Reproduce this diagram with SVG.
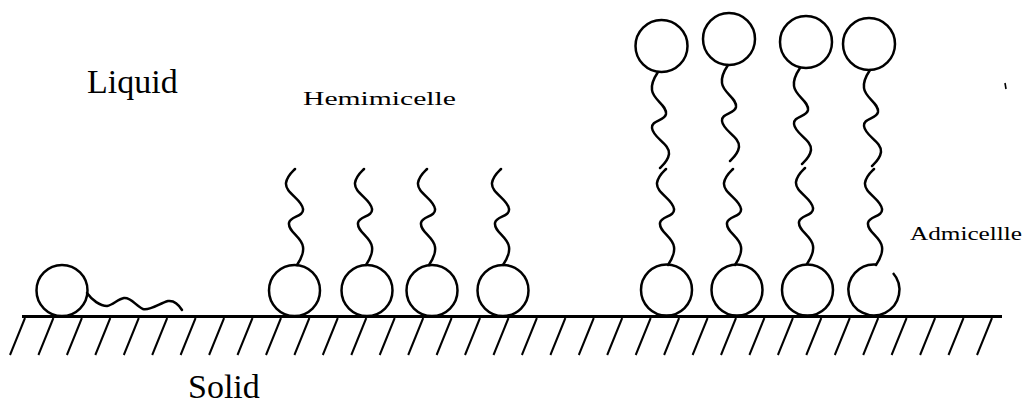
<svg xmlns="http://www.w3.org/2000/svg" xmlns:xlink="http://www.w3.org/1999/xlink" width="1027" height="405" viewBox="0 0 1027 405">
  <style>
    .head { fill: none; stroke: #000; stroke-width: 2.5; }
    .tail { fill: none; stroke: #000; stroke-width: 2.5; stroke-linecap: round; stroke-linejoin: round; }
    .ground { stroke: #000; stroke-width: 3; }
    .hatch { stroke: #000; stroke-width: 2; }
    .lbl { font-family: "Liberation Serif", "DejaVu Serif", "Times New Roman", serif; fill: #000; }
  </style>
  <defs>
    <!-- hydrocarbon chain, anchored at the head group, pointing up -->
    <path id="chain" class="tail" d="M0,0 C4,-6 7,-12 6,-18 C5,-28 -9,-33 -8,-42 C-7,-49 7,-48 6,-56 C5,-66 -12,-72 -11,-82 C-10,-89 -5,-93 -2,-96"/>
    <line id="tick" class="hatch" x1="0" y1="318" x2="-15" y2="355"/>
  </defs>
  <rect width="1027" height="405" fill="#fff"/>

  <!-- solid surface with hatching -->
  <g id="surface">
    <line class="ground" x1="22" y1="316.5" x2="1002" y2="316.5"/>
    <use xlink:href="#tick" x="25"/><use xlink:href="#tick" x="53.4"/><use xlink:href="#tick" x="81.9"/>
    <use xlink:href="#tick" x="110.3"/><use xlink:href="#tick" x="138.8"/><use xlink:href="#tick" x="167.2"/>
    <use xlink:href="#tick" x="195.6"/><use xlink:href="#tick" x="224.1"/><use xlink:href="#tick" x="252.5"/>
    <use xlink:href="#tick" x="281"/><use xlink:href="#tick" x="309.4"/><use xlink:href="#tick" x="337.8"/>
    <use xlink:href="#tick" x="366.3"/><use xlink:href="#tick" x="394.7"/><use xlink:href="#tick" x="423.2"/>
    <use xlink:href="#tick" x="451.6"/><use xlink:href="#tick" x="480"/><use xlink:href="#tick" x="508.5"/>
    <use xlink:href="#tick" x="536.9"/><use xlink:href="#tick" x="565.4"/><use xlink:href="#tick" x="593.8"/>
    <use xlink:href="#tick" x="622.2"/><use xlink:href="#tick" x="650.7"/><use xlink:href="#tick" x="679.1"/>
    <use xlink:href="#tick" x="707.6"/><use xlink:href="#tick" x="736"/><use xlink:href="#tick" x="764.4"/>
    <use xlink:href="#tick" x="792.9"/><use xlink:href="#tick" x="821.3"/><use xlink:href="#tick" x="849.8"/>
    <use xlink:href="#tick" x="878.2"/><use xlink:href="#tick" x="906.6"/><use xlink:href="#tick" x="935.1"/>
    <use xlink:href="#tick" x="963.5"/><use xlink:href="#tick" x="992"/>
  </g>

  <!-- single adsorbed surfactant lying flat -->
  <g id="monomer">
    <circle class="head" cx="62" cy="290.5" r="25.5"/>
    <path class="tail" d="M87,293 C92,300 100,306 107,306 C113,305 118,299 124,298 C131,297 136,306 143,309 C150,311 160,303 168,301 C175,300 179,305 182,310"/>
  </g>

  <!-- hemimicelle: heads on the surface, chains up -->
  <g id="hemimicelle">
    <circle class="head" cx="294.5" cy="290.5" r="25.5"/>
    <circle class="head" cx="367" cy="290.5" r="25.5"/>
    <circle class="head" cx="432" cy="290.5" r="25.5"/>
    <circle class="head" cx="503" cy="290.5" r="25.5"/>
    <use xlink:href="#chain" x="297" y="265"/>
    <use xlink:href="#chain" x="366" y="265"/>
    <use xlink:href="#chain" x="429" y="265"/>
    <use xlink:href="#chain" x="503" y="265"/>
  </g>

  <!-- admicelle: bilayer, lower and upper leaflets -->
  <g id="admicelle">
    <circle class="head" cx="666.5" cy="290" r="25.5"/>
    <circle class="head" cx="737" cy="290" r="25.5"/>
    <circle class="head" cx="807.5" cy="290" r="25.5"/>
    <path class="head" d="M893,273 A25.5,25.5 0 1 1 876,264.5"/>
    <use xlink:href="#chain" x="668" y="265"/>
    <use xlink:href="#chain" x="735" y="265"/>
    <use xlink:href="#chain" x="807" y="264"/>
    <use xlink:href="#chain" x="876" y="265"/>

    <circle class="head" cx="661.5" cy="46" r="26"/>
    <circle class="head" cx="729" cy="39" r="26"/>
    <circle class="head" cx="806" cy="42" r="26"/>
    <circle class="head" cx="869" cy="44" r="26"/>
    <use xlink:href="#chain" transform="translate(658,72) rotate(180)"/>
    <use xlink:href="#chain" transform="translate(728,65) rotate(180)"/>
    <use xlink:href="#chain" transform="translate(800,68) rotate(180)"/>
    <use xlink:href="#chain" transform="translate(870,70) rotate(180)"/>
  </g>

  <line x1="1005" y1="83" x2="1006" y2="89" stroke="#000" stroke-width="1.6"/>

  <!-- labels -->
  <g id="labels">
    <text class="lbl" x="87" y="93" font-size="34" font-family="Liberation Serif, DejaVu Serif, serif">Liquid</text>
    <text class="lbl" x="303" y="105" font-size="19" textLength="153" lengthAdjust="spacingAndGlyphs" font-family="Liberation Serif, DejaVu Serif, serif">Hemimicelle</text>
    <text class="lbl" x="910" y="240" font-size="19" textLength="112" lengthAdjust="spacingAndGlyphs" font-family="Liberation Serif, DejaVu Serif, serif">Admicellle</text>
    <text class="lbl" x="188" y="398" font-size="34" font-family="Liberation Serif, DejaVu Serif, serif">Solid</text>
  </g>
</svg>
